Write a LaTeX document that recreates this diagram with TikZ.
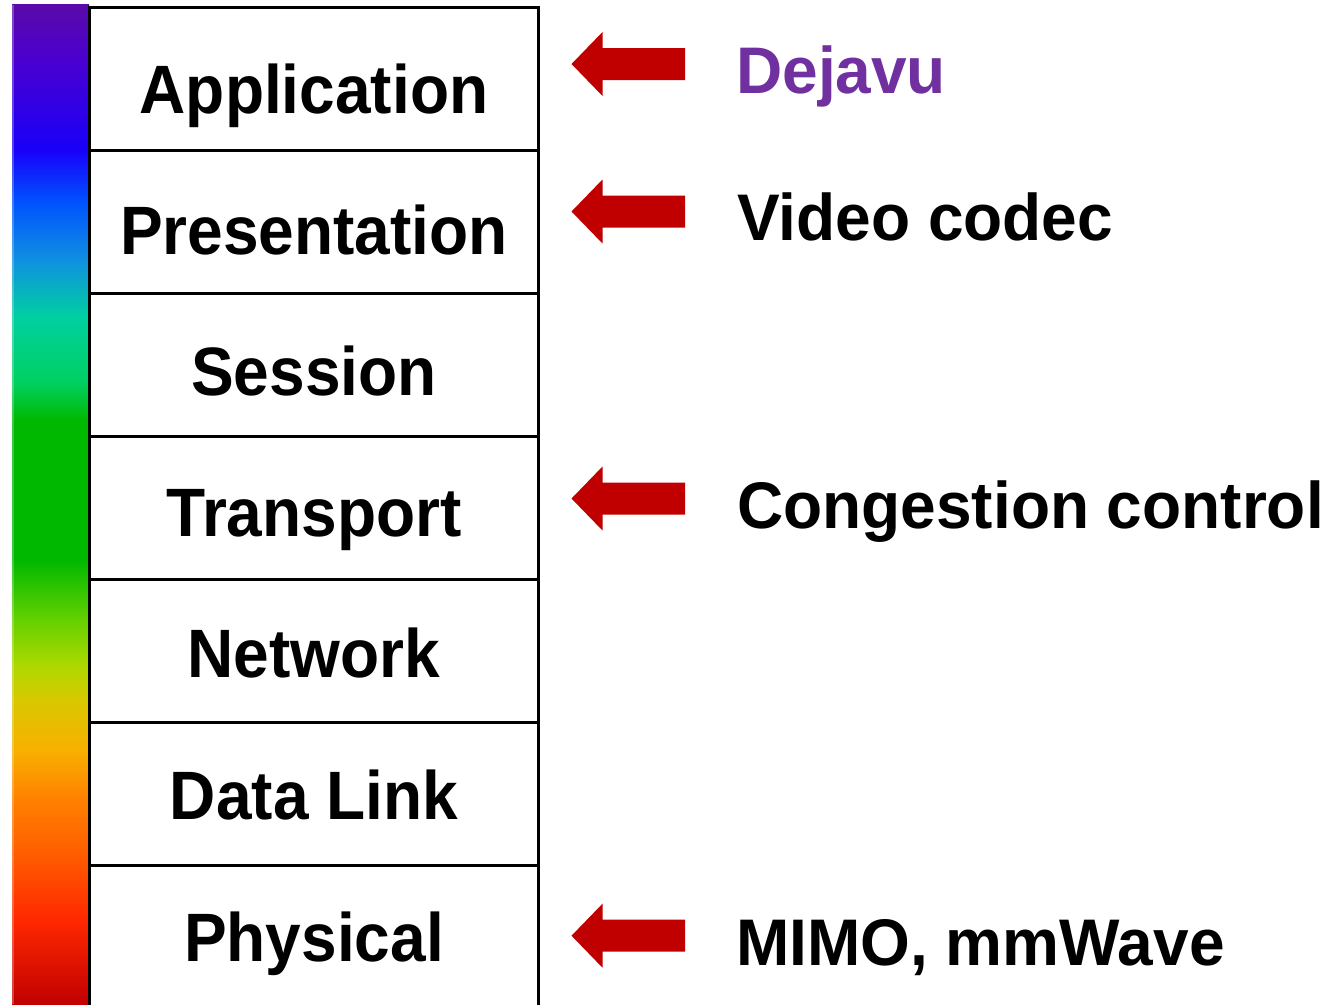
\documentclass[tikz,border=0pt]{standalone}
\usepackage{fontspec}
\setmainfont{Liberation Sans}
\usepackage{graphicx}
\definecolor{arrowred}{HTML}{C00000}
\definecolor{dejapurple}{HTML}{7030A0}
\tikzset{
  layerbox/.style={draw=black, line width=3pt, minimum width=449.5pt, minimum height=143pt, inner sep=0pt, outer sep=0pt},
  layertext/.style={anchor=base, inner sep=0pt, font=\fontsize{64}{64}\selectfont\bfseries},
  sidetext/.style={anchor=base west, inner sep=0pt, font=\fontsize{64}{64}\selectfont\bfseries},
  redarrow/.style={fill=arrowred, draw=none}
}
\newcommand{\vstretch}[1]{\scalebox{1}[1.07]{#1}}
\newcommand{\sstretch}[1]{\scalebox{1}[1.03]{#1}}
\begin{document}
\begin{tikzpicture}[x=1pt,y=-1pt]
\useasboundingbox (0,0) rectangle (1332,1004);
\clip (0,0) rectangle (1332,1004);
% gradient bar
\def\barL{12}\def\barR{89}
\foreach \ya/\ca/\yb/\cb in {
  5/{5A0AA8}/60/{4A00D0},
  60/{4A00D0}/150/{1800F8},
  150/{1800F8}/200/{0050FF},
  200/{0050FF}/260/{1090E0},
  260/{1090E0}/317/{00D0A0},
  317/{00D0A0}/383/{00D060},
  383/{00D060}/420/{00B800},
  420/{00B800}/560/{00B800},
  560/{00B800}/617/{60D000},
  617/{60D000}/667/{B0D800},
  667/{B0D800}/700/{D8C800},
  700/{D8C800}/750/{F8B000},
  750/{F8B000}/800/{FF8000},
  800/{FF8000}/850/{FF6000},
  850/{FF6000}/920/{FF2800},
  920/{FF2800}/1004/{C00000}}{
  \definecolor{ctop}{HTML}{\ca}\definecolor{cbot}{HTML}{\cb}
  \shade[top color=ctop, bottom color=cbot, shading angle=0] (\barL,\ya-0.3) rectangle (\barR,\yb+0.3);
}
\fill[white, opacity=0.25] (\barL,5) rectangle (\barL+2,1004);
\draw[black, opacity=0.55, line width=1.5pt] (\barR-0.5,5) -- (\barR-0.5,1004);
% layer boxes
\node[layerbox] (app)  at (313.75,78.5)  {};
\node[layerbox] (pres) at (313.75,221.5) {};
\node[layerbox] (sess) at (313.75,364.5) {};
\node[layerbox] (trans) at (313.75,507.5) {};
\node[layerbox] (net)  at (313.75,650.5) {};
\node[layerbox] (dl)   at (313.75,793.5) {};
\node[layerbox] (phy)  at (313.75,936.5) {};
% layer labels
\node[layertext] (tapp)   at (314,113) {\vstretch{Application}};
\node[layertext] (tpres)  at (314,254) {\vstretch{Presentation}};
\node[layertext] (tsess)  at (314,395) {\vstretch{Session}};
\node[layertext] (ttrans) at (314,536) {\vstretch{Transport}};
\node[layertext] (tnet)   at (314,677) {\vstretch{Network}};
\node[layertext] (tdl)    at (314,819) {\vstretch{Data Link}};
\node[layertext] (tphy)   at (314,961) {\vstretch{Physical}};
% arrows
\foreach \c in {64,211.5,498.5,935.7}{
  \fill[redarrow] (571.5,\c) -- (602.5,\c-32) -- (602.5,\c-16) -- (685,\c-16)
    -- (685,\c+16) -- (602.5,\c+16) -- (602.5,\c+32) -- cycle;
}
% side labels
\node[sidetext, text=dejapurple] (dejavu) at (736,93.3) {\sstretch{Dejavu}};
\node[sidetext] (codec) at (737,240) {\sstretch{Video codec}};
\node[sidetext] (cc) at (737,528) {\sstretch{Congestion control}};
\node[sidetext] (mimo) at (736,965) {\sstretch{MIMO, mmWave}};
\end{tikzpicture}
\end{document}
